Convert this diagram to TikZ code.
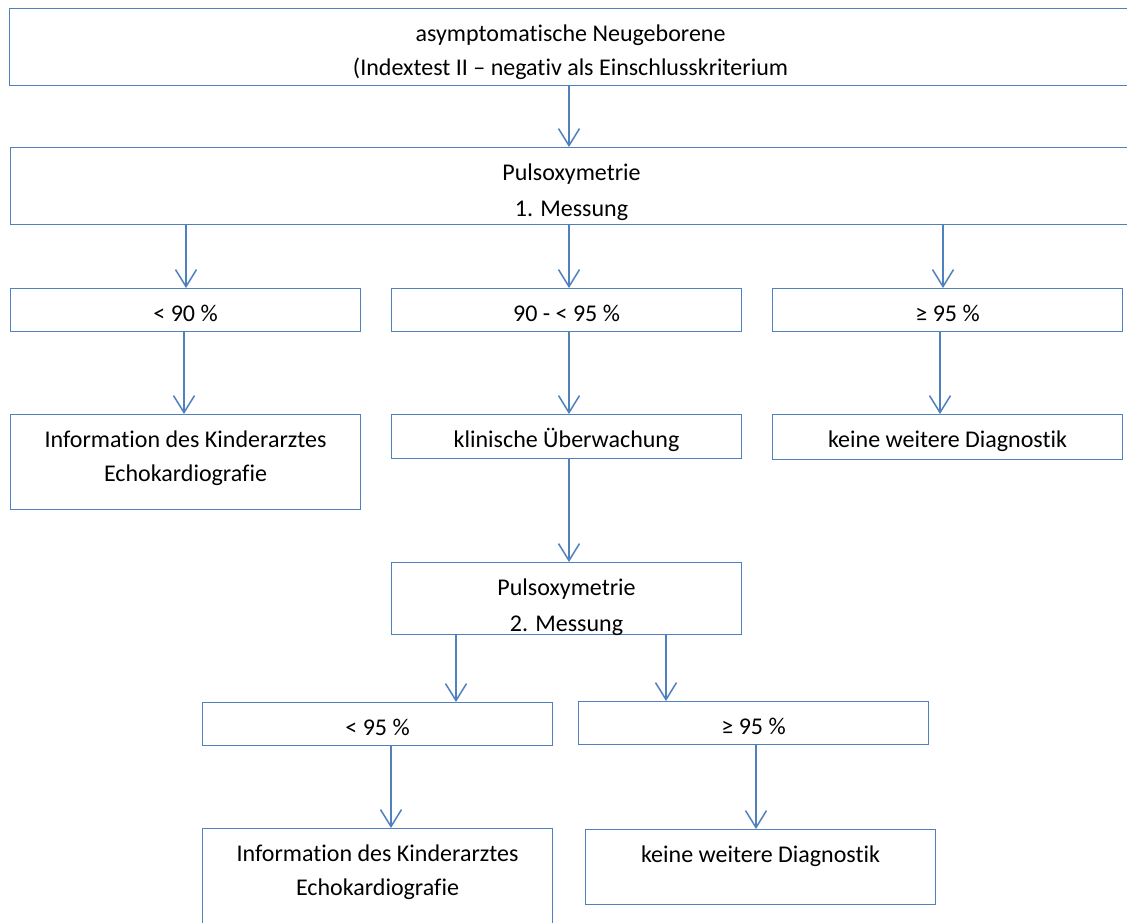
\documentclass[tikz,border=0pt]{standalone}
\usepackage{fontspec}
\setmainfont{Carlito}[Ligatures={NoCommon}]
\usetikzlibrary{arrows.meta}
\definecolor{flowblue}{HTML}{4F81BD}
% box content: width, total height, text (first baseline 33pt below the top)
\newcommand\boxtext[3]{\parbox[t][#2][t]{#1}{\centering\rule{0pt}{33pt}#3}}
\tikzset{
  flowbox/.style={draw=flowblue, line width=1.1pt, inner sep=0pt, anchor=north west,
    font=\fontsize{24}{34}\selectfont},
  flowarrow/.style={draw=flowblue, line width=1.5pt,
    -{Straight Barb[length=17pt,width=21pt,line width=1.5pt]}}
}
\begin{document}
\begin{tikzpicture}[x=1pt,y=-1pt]
\clip (0,0) rectangle (1127,922);
\fill[white] (0,0) rectangle (1127,922);

% boxes
\node[flowbox] (top) at (9,8) {\boxtext{1122pt}{77pt}{asymptomatische Neugeborene\\(Indextest II – negativ als Einschlusskriterium}};
\node[flowbox] (p1) at (10,147) {\boxtext{1122pt}{77pt}{Pulsoxymetrie\\[2pt]1. Messung}};

\node[flowbox] (a1) at (10,288) {\boxtext{350pt}{43pt}{< 90 \%}};
\node[flowbox] (a2) at (391,288) {\boxtext{350pt}{43pt}{90 - < 95 \%}};
\node[flowbox] (a3) at (772,288) {\boxtext{350pt}{43pt}{≥ 95 \%}};

\node[flowbox] (b1) at (10,414) {\boxtext{350pt}{95pt}{Information des Kinderarztes\\Echokardiografie}};
\node[flowbox] (b2) at (391,414) {\boxtext{350pt}{44pt}{klinische Überwachung}};
\node[flowbox] (b3) at (772,414) {\boxtext{350pt}{45pt}{keine weitere Diagnostik}};

\node[flowbox] (p2) at (391,562) {\boxtext{350pt}{72pt}{Pulsoxymetrie\\[2pt]2. Messung}};

\node[flowbox] (c1) at (202,702) {\boxtext{350pt}{43pt}{< 95 \%}};
\node[flowbox] (c2) at (578,701) {\boxtext{350pt}{43pt}{≥ 95 \%}};

\node[flowbox] (d1) at (202,828) {\boxtext{350pt}{120pt}{Information des Kinderarztes\\Echokardiografie}};
\node[flowbox] (d2) at (585,829) {\boxtext{350pt}{75pt}{keine weitere Diagnostik}};

% arrow columns
\coordinate (xm) at (569,0);
\coordinate (xl1) at (186,0);
\coordinate (xr1) at (943,0);
\coordinate (xl2) at (184,0);
\coordinate (xr2) at (940,0);
\coordinate (xs1) at (456,0);
\coordinate (xs2) at (666,0);
\coordinate (xt1) at (391,0);
\coordinate (xt2) at (756,0);

% connectors
\draw[flowarrow] (top.south -| xm) -- (p1.north -| xm);
\draw[flowarrow] (p1.south -| xl1) -- (a1.north -| xl1);
\draw[flowarrow] (p1.south -| xm) -- (a2.north -| xm);
\draw[flowarrow] (p1.south -| xr1) -- (a3.north -| xr1);
\draw[flowarrow] (a1.south -| xl2) -- (b1.north -| xl2);
\draw[flowarrow] (a2.south -| xm) -- (b2.north -| xm);
\draw[flowarrow] (a3.south -| xr2) -- (b3.north -| xr2);
\draw[flowarrow] (b2.south -| xm) -- (p2.north -| xm);
\draw[flowarrow] (p2.south -| xs1) -- (c1.north -| xs1);
\draw[flowarrow] (p2.south -| xs2) -- (c2.north -| xs2);
\draw[flowarrow] (c1.south -| xt1) -- (d1.north -| xt1);
\draw[flowarrow] (c2.south -| xt2) -- (d2.north -| xt2);
\end{tikzpicture}
\end{document}
